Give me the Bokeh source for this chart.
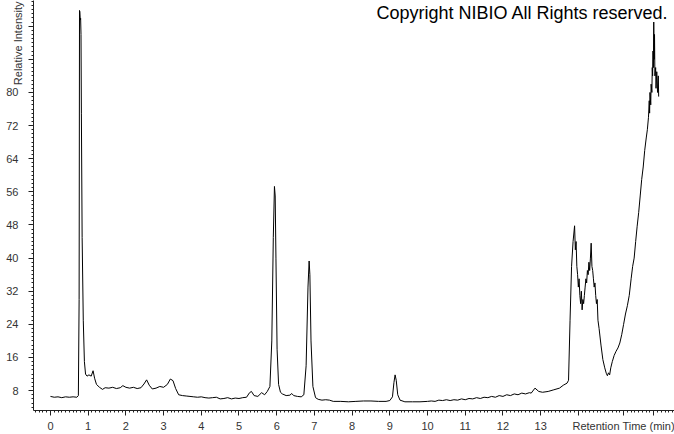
from bokeh.plotting import figure
from bokeh.models import FixedTicker, Label, ColumnDataSource, LinearAxis
from bokeh.embed import file_html
from bokeh.resources import INLINE

# Chromatogram trace: retention time (min) and relative intensity
rt = [0.00, 0.10, 0.20, 0.30, 0.40, 0.50, 0.60, 0.70, 0.74, 0.76, 0.77, 0.78, 0.79, 0.80, 0.81, 0.82, 0.84, 0.87, 0.90,
      0.93, 0.97, 1.02, 1.08, 1.13, 1.17, 1.22, 1.30, 1.38, 1.45, 1.55, 1.65, 1.75, 1.85, 1.92, 2.00, 2.10, 2.20,
      2.30, 2.40, 2.48, 2.55, 2.62, 2.70, 2.80, 2.90, 3.00, 3.10, 3.18, 3.25, 3.32, 3.40, 3.50, 3.60, 3.70, 3.80,
      3.90, 4.00, 4.10, 4.20, 4.30, 4.40, 4.50, 4.60, 4.70, 4.80, 4.90, 5.00, 5.10, 5.20, 5.28, 5.33, 5.40, 5.50,
      5.60, 5.68, 5.75, 5.82, 5.87, 5.91, 5.94, 5.96, 5.98, 6.01, 6.05, 6.10, 6.15, 6.25, 6.35, 6.40, 6.45, 6.55,
      6.65, 6.72, 6.78, 6.83, 6.86, 6.88, 6.91, 6.96, 7.03, 7.10, 7.20, 7.30, 7.40, 7.50, 7.70, 7.90, 8.10, 8.30,
      8.50, 8.70, 8.90, 9.00, 9.07, 9.11, 9.14, 9.17, 9.21, 9.27, 9.40, 9.60, 9.80,
      10.00, 10.10, 10.20, 10.30, 10.40, 10.50, 10.60, 10.70, 10.80, 10.90, 11.00, 11.10, 11.20, 11.30, 11.40,
      11.50, 11.60, 11.70, 11.80, 11.90, 12.00, 12.10, 12.20, 12.30, 12.40, 12.50, 12.60, 12.70,
      12.75, 12.85, 12.95, 13.05, 13.20,
      13.35, 13.50, 13.60, 13.70, 13.74, 13.78, 13.82, 13.86, 13.90, 13.92, 13.94, 13.96, 13.98, 14.00, 14.02,
      14.04, 14.06, 14.08, 14.10, 14.12, 14.14, 14.16, 14.18, 14.20, 14.22, 14.24, 14.26, 14.28, 14.30, 14.32,
      14.34, 14.36, 14.38, 14.40, 14.42, 14.44, 14.46, 14.48, 14.50, 14.52, 14.55, 14.60, 14.65, 14.70, 14.74,
      14.77, 14.80, 14.83, 14.86, 14.90, 14.95, 15.00, 15.05, 15.10, 15.15, 15.20, 15.25, 15.30, 15.35, 15.40,
      15.44, 15.48, 15.52, 15.56, 15.60, 15.64, 15.68, 15.72, 15.76, 15.80, 15.83, 15.86, 15.88, 15.89, 15.90,
      15.92, 15.93, 15.95, 15.96, 15.97, 15.98, 15.99, 16.00, 16.01, 16.02, 16.03, 16.05, 16.06, 16.08, 16.10,
      16.12, 16.13]
intensity = [6.6, 6.4, 6.5, 6.3, 6.5, 6.4, 6.5, 6.4, 6.8, 30.0, 99.8, 99.5, 97.5, 97.9, 94.0, 75.0, 45.0, 25.0, 15.0,
             12.0, 11.5, 11.8, 11.5, 12.8, 11.0, 9.5, 8.8, 8.3, 8.7, 8.6, 8.8, 8.5, 8.7, 9.2, 8.8, 8.6, 8.8,
             8.5, 8.7, 9.6, 10.6, 9.3, 8.4, 8.6, 9.0, 8.8, 9.5, 10.8, 10.4, 8.5, 7.0, 6.8, 6.7, 6.6, 6.5,
             6.4, 6.5, 6.3, 6.2, 6.3, 6.4, 6.0, 6.1, 6.3, 6.0, 6.2, 6.1, 6.3, 6.4, 7.5, 7.8, 6.8, 6.6,
             7.5, 7.0, 7.8, 9.0, 20.0, 45.0, 57.3, 55.0, 40.0, 18.0, 9.5, 7.6, 7.2, 6.8, 6.9, 7.3, 6.8, 6.6,
             6.5, 7.0, 14.0, 33.0, 39.3, 36.0, 20.0, 9.0, 6.3, 5.9, 5.7, 5.8, 5.7, 5.4, 5.4, 5.3, 5.4, 5.5,
             5.5, 5.4, 5.4, 5.6, 6.5, 10.0, 11.8, 10.5, 7.0, 5.7, 5.3, 5.3, 5.3,
             5.4, 5.5, 5.4, 5.7, 5.6, 5.8, 5.6, 5.8, 5.7, 6.0, 5.8, 6.1, 6.0, 6.3, 6.1,
             6.4, 6.3, 6.6, 6.4, 6.8, 6.6, 7.0, 6.8, 7.2, 7.0, 7.4, 7.2, 7.5,
             7.4, 8.6, 7.8, 7.6, 7.8,
             8.2, 8.6, 9.3, 9.8, 10.5, 25.0, 38.0, 44.0, 47.8, 42.0, 44.0, 38.0, 36.0, 33.0, 35.0,
             31.0, 29.0, 32.0, 27.5, 30.0, 29.0, 31.0, 33.0, 35.0, 34.0, 37.0, 36.0, 39.0, 37.0, 40.0,
             43.6, 38.0, 37.0, 35.0, 33.0, 34.0, 31.0, 29.0, 30.0, 25.0, 23.0, 19.0, 15.5, 13.5, 12.2,
             11.6, 12.3, 11.8, 13.5, 15.0, 16.5, 17.5, 18.3, 19.5, 21.5, 24.0, 26.5, 28.5, 31.0, 35.0,
             38.0, 40.0, 44.0, 47.7, 51.0, 55.0, 59.0, 62.0, 66.0, 69.0, 71.0, 74.0, 78.0, 75.0, 80.0,
             77.0, 82.0, 80.0, 86.0, 84.0, 90.0, 86.0, 97.0, 88.0, 94.0, 84.0, 86.0, 81.0, 85.0, 80.0,
             84.0, 79.0]

# tick labels
x_ticks = list(range(0, 14))
y_ticks = [8, 16, 24, 32, 40, 48, 56, 64, 72, 80]

title_text = "Copyright NIBIO All Rights reserved."
x_label = "Retention Time (min)"
y_label = "Relative Intensity"

X0, X1 = -0.45, 16.55
Y0, Y1 = 3.2, 102.2
X_LABEL_AT = 15.2
Y_LABEL_AT = 92.3
FONT = "Liberation Sans"

p = figure(width=674, height=434, x_range=(X0, X1), y_range=(Y0, Y1),
           output_backend="svg", toolbar_location=None,
           min_border_left=33, min_border_right=0, min_border_top=0, min_border_bottom=22)
p.outline_line_color = None
p.grid.visible = False
p.background_fill_color = "white"
p.border_fill_color = "white"

src = ColumnDataSource(dict(rt=rt, intensity=intensity))
p.line("rt", "intensity", source=src, line_color="black", line_width=1)

for ax in (p.xaxis[0], p.yaxis[0]):
    ax.axis_line_color = "#222222"
    ax.major_tick_line_color = "#222222"
    ax.minor_tick_line_color = "#222222"
    ax.major_tick_in = 0
    ax.minor_tick_in = 0
    ax.major_tick_out = 5
    ax.minor_tick_out = 2
    ax.major_label_text_font = FONT
    ax.major_label_text_font_size = "11px"
    ax.major_label_text_color = "#333333"

x_minor = [round(-0.4 + 0.1 * i, 2) for i in range(170)]
p.xaxis.ticker = FixedTicker(ticks=x_ticks + [14, X_LABEL_AT, 16], minor_ticks=x_minor)
p.xaxis.major_label_overrides = {14: "", 16: "", X_LABEL_AT: x_label}
p.xaxis.major_label_standoff = 4

y_minor = list(range(4, 103))
p.yaxis.ticker = FixedTicker(ticks=y_ticks + [88, 96], minor_ticks=y_minor)
p.yaxis.major_label_overrides = {88: "", 96: ""}
p.yaxis.major_label_standoff = 10

# rotated y-axis title near the top, drawn as a tick label of a bare second axis
ylab_axis = LinearAxis(ticker=FixedTicker(ticks=[Y_LABEL_AT], minor_ticks=[]),
                       major_label_overrides={Y_LABEL_AT: y_label},
                       major_label_orientation="vertical",
                       axis_line_color=None, major_tick_line_color=None, minor_tick_line_color=None,
                       major_tick_out=0, major_tick_in=0,
                       major_label_standoff=-21,
                       major_label_text_font=FONT, major_label_text_font_size="11px",
                       major_label_text_color="#333333")
p.add_layout(ylab_axis, "left")

p.add_layout(Label(x=X1, y=Y1, x_offset=-6, y_offset=-2, text=title_text,
                   text_font=FONT, text_font_size="18px", text_color="black",
                   text_align="right", text_baseline="top"))

open("out.html", "w").write(file_html(p, INLINE))
